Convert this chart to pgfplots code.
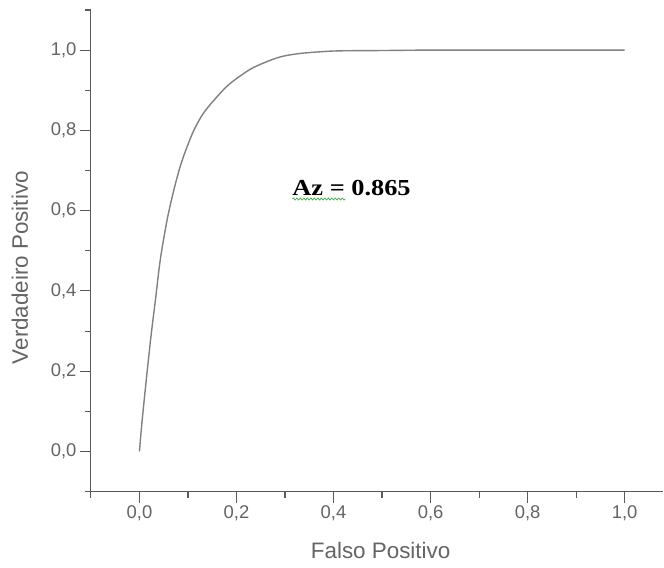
\documentclass[border=0pt]{standalone}
\usepackage{fontspec}
\setmainfont{Liberation Sans}
\newfontfamily\timesfont[FakeStretch=1.15]{Liberation Serif}
\usepackage{pgfplots}
\pgfplotsset{compat=1.18}
\usetikzlibrary{decorations.pathmorphing}
\definecolor{axisgray}{RGB}{90,90,90}
\definecolor{labelgray}{RGB}{100,100,100}
\definecolor{curvegray}{RGB}{128,128,128}
\definecolor{spellgreen}{RGB}{60,170,60}

\begin{document}
\begin{tikzpicture}
\begin{axis}[
    scale only axis,
    width=573bp, height=482bp,
    xmin=-0.1, xmax=1.08,
    ymin=-0.1, ymax=1.1,
    axis x line=bottom, axis y line=left,
    axis line style={-, axisgray, line width=1.1bp},
    xtick={0,0.2,0.4,0.6,0.8,1.0},
    ytick={0,0.2,0.4,0.6,0.8,1.0},
    minor xtick={-0.1,0.1,0.3,0.5,0.7,0.9},
    minor ytick={-0.1,0.1,0.3,0.5,0.7,0.9,1.1},
    tick align=outside,
    major tick length=11bp, minor tick length=6bp,
    tick style={axisgray, line width=1.1bp},
    xticklabel style={font=\fontsize{18.5}{22}\selectfont, text=labelgray},
    yticklabel style={font=\fontsize{18.5}{22}\selectfont, text=labelgray},
    /pgf/number format/.cd, use comma, fixed, fixed zerofill, precision=1, assume math mode=true,
    /pgfplots/.cd,
    xlabel={Falso Positivo},
    ylabel={Verdadeiro Positivo},
    every axis x label/.style={at={(axis description cs:0.506,0)}, anchor=center, yshift=-59bp,
        font=\fontsize{22.5}{26}\selectfont, text=labelgray},
    every axis y label/.style={at={(axis description cs:-0.124,0.465)}, rotate=90, anchor=center,
        font=\fontsize{22.5}{26}\selectfont, text=labelgray},
    clip=false,
]
\addplot[curvegray, line width=1.4bp, smooth, tension=0.5] coordinates {
    (0,0) (0.005,0.07) (0.012,0.154) (0.023,0.279) (0.033,0.378) (0.043,0.478)
    (0.057,0.577) (0.071,0.652) (0.084,0.710) (0.095,0.749) (0.112,0.800)
    (0.132,0.843) (0.160,0.884) (0.187,0.917) (0.228,0.952) (0.260,0.970)
    (0.290,0.983) (0.320,0.990) (0.352,0.994) (0.406,0.998) (0.500,0.999)
    (0.600,1.000) (0.800,1.000) (1.000,1.000)
};
\node[anchor=base west, inner sep=0pt, font=\timesfont\bfseries\fontsize{23}{27}\selectfont] (az)
    at (axis cs:0.315,0.639) {Az = 0.865};
\end{axis}
\draw[spellgreen, line width=0.7bp, decorate, decoration={snake, amplitude=1bp, segment length=3.5bp}]
    ([yshift=-4bp]az.base west) -- ([xshift=53bp,yshift=-4bp]az.base west);
\path ([xshift=-91bp,yshift=-76bp]current axis.south west) rectangle ([yshift=10bp]current axis.north east);
\end{tikzpicture}
\end{document}
